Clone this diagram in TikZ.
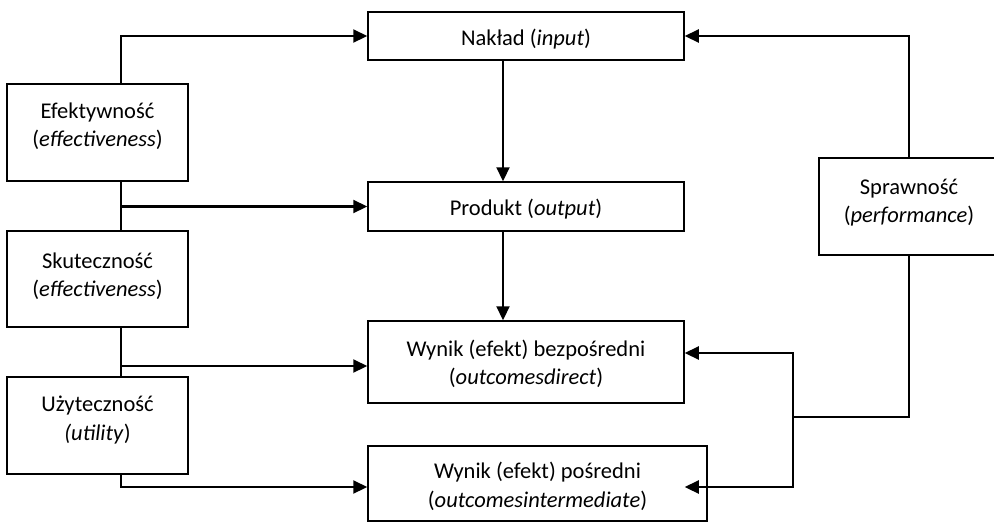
\documentclass[tikz,border=0pt]{standalone}
\usepackage{fontspec}
\setmainfont{Carlito}
\usetikzlibrary{arrows.meta,calc}
\begin{document}
\begin{tikzpicture}[x=1pt,y=-1pt,
  box/.style={draw, line width=1.5pt, rectangle, inner sep=0pt},
  lbl/.style={align=center, font=\fontsize{22.5}{28.5}\selectfont, inner sep=0pt},
  conn/.style={line width=2.2pt},
  arr/.style={conn, -{Triangle[length=14pt,width=13pt]}}]
\useasboundingbox (0,0) rectangle (994,523);
% boxes
\node[box, minimum width=316pt, minimum height=48pt] (N) at (526,36) {};
\node[box, minimum width=316pt, minimum height=49pt] (P) at (526,206.5) {};
\node[box, minimum width=316pt, minimum height=82pt] (WB) at (526,362) {};
\node[box, minimum width=339pt, minimum height=75pt] (WP) at (537.5,483.5) {};
\node[box, minimum width=181pt, minimum height=97pt] (E) at (97.5,132.5) {};
\node[box, minimum width=181pt, minimum height=96pt] (S) at (97.5,279) {};
\node[box, minimum width=181pt, minimum height=97pt] (U) at (97.5,425.5) {};
\node[box, minimum width=180pt, minimum height=97pt] (SP) at (909,206.5) {};
% texts
\node[lbl, anchor=base] (Nt) at (526,45) {Nakład (\textit{input})};
\node[lbl, anchor=base] (Pt) at (526,215) {Produkt (\textit{output})};
\node[lbl] (WBt) at (526,364) {Wynik (efekt) bezpośredni\\(\textit{outcomesdirect})};
\node[lbl] (WPt) at (537.5,486.5) {Wynik (efekt) pośredni\\(\textit{outcomesintermediate})};
\node[lbl] (Et) at (97.5,126) {Efektywność\\(\textit{effectiveness})};
\node[lbl] (St) at (97.5,276) {Skuteczność\\(\textit{effectiveness})};
\node[lbl] (Ut) at (97.5,420) {Użyteczność\\\textit{(utility})};
\node[lbl] (SPt) at (909,202.5) {Sprawność\\(\textit{performance})};
% helper coordinates
\coordinate (lx) at (121,0);
\coordinate (vx) at (503,0);
\coordinate (jn) at (793,417);
\coordinate (wbin) at ($(WB.west)+(0,4)$);
\coordinate (wpin) at ($(WP.west)+(0,3.5)$);
\coordinate (wbr) at ($(WB.east)+(0,-9)$);
% left connectors
\draw[arr] (E.north -| lx) |- (N.west);
\draw[conn] (E.south -| lx) -- (S.north -| lx);
\draw[arr] (P.west -| lx) -- (P.west);
\draw[conn] (S.south -| lx) -- (U.north -| lx);
\draw[arr] (wbin -| lx) -- (wbin);
\draw[arr] (U.south -| lx) |- (wpin);
% centre connectors
\draw[arr] (N.south -| vx) -- (P.north -| vx);
\draw[arr] (P.south -| vx) -- (WB.north -| vx);
% right connectors
\draw[arr] (SP.north) |- (N.east);
\draw[conn] (SP.south) |- (jn);
\draw[arr] (jn) |- (wbr);
\draw[arr] (jn) |- (WB.east |- wpin);
\end{tikzpicture}
\end{document}
